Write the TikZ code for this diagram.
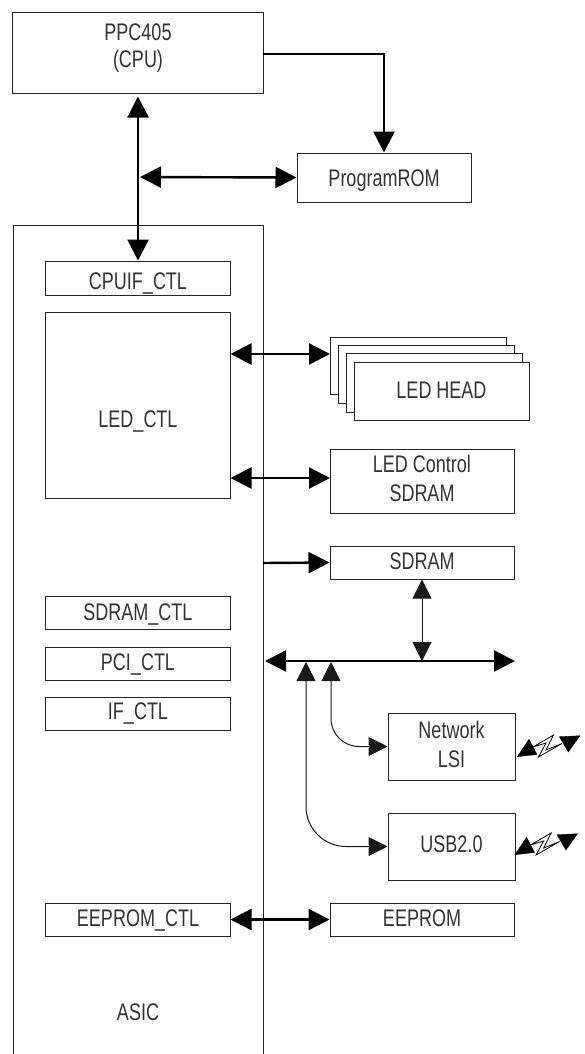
\documentclass[tikz,border=0pt]{standalone}
\usepackage{fontspec}
\setmainfont[FakeStretch=0.75]{Liberation Sans}
\usetikzlibrary{arrows.meta}
\tikzset{
  px/.style={x=1bp,y=-1bp},
  box/.style={draw=black!85,line width=1bp,fill=white,inner sep=0pt,align=center,text=black!80,
    font=\fontsize{24bp}{29bp}\selectfont},
  label/.style={inner sep=0pt,align=center,text=black!80,font=\fontsize{24bp}{29bp}\selectfont},
  bus/.style={line width=2.4bp,black,{Triangle[length=21bp,width=21bp]}-{Triangle[length=21bp,width=21bp]}},
  oneway/.style={line width=2.4bp,black,-{Triangle[length=21bp,width=21bp]}},
  thinbus/.style={line width=1bp,black!90,{Triangle[length=19bp,width=19bp]}-{Triangle[length=19bp,width=19bp]}},
  frame/.style={draw=black!85,line width=1bp},
  antenna/.style={fill=black,draw=black,line width=.3bp},
  bolt/.style={draw=black,line width=.8bp,fill=white,line join=miter},
}
\newcommand{\wb}[5]{\node[box,minimum width=#3 bp,minimum height=#4 bp] (#1) at (#2) {#5};}
% one line of text, its capitals centred #1 below the middle of the box
\newcommand{\low}[2]{\raisebox{\dimexpr-#1bp-8.5bp\relax}[0pt][0pt]{#2}}
% two lines of text, #1 below the middle of the box less the math axis
\newcommand{\twol}[4]{\raisebox{\dimexpr-#1bp\relax}[0pt][0pt]{\begin{tabular}{@{}c@{}}#3\\[#2bp]#4\end{tabular}}}
\begin{document}
\begin{tikzpicture}[px]
\useasboundingbox (0,0) rectangle (585,1054);
% ASIC frame (open at the lower edge)
\draw[frame] (13,1054) -- (13,225) -- (263,225) -- (263,1054);
\node[label] (asic) at (138,1012) {ASIC};
\coordinate (asicout) at (263,563);
\wb{ppc}{138,52.5}{250}{81}{\twol{2}{-2}{PPC405}{(CPU)}}
\wb{rom}{384,177.5}{174}{49}{\low{0}{ProgramROM}}
\wb{cpuif}{138,278}{184}{34}{\low{2.5}{CPUIF\_CTL}}
\wb{ledctl}{138,405}{184}{186}{\low{14}{LED\_CTL}}
\wb{sdctl}{138,612.5}{184}{33}{\low{-0.5}{SDRAM\_CTL}}
\wb{pcictl}{138,663.5}{184}{33}{\low{-1.5}{PCI\_CTL}}
\wb{ifctl}{138,713.5}{184}{33}{\low{-2.5}{IF\_CTL}}
\wb{eectl}{138,919.5}{184}{33}{\low{-1.5}{EEPROM\_CTL}}
\wb{head1}{418,365.5}{176}{57}{}
\wb{head2}{426,374}{176}{58}{}
\wb{head3}{434,382.5}{176}{59}{}
\wb{head4}{441.5,391}{175}{58}{\low{-1}{LED HEAD}}
\wb{ledram}{422,481}{184}{64}{\twol{6.25}{-0.5}{LED Control}{SDRAM}}
\wb{sdram}{422,562.5}{184}{33}{\low{-1.5}{SDRAM}}
\wb{net}{451.5,746.5}{127}{67}{\twol{7}{0}{Network}{LSI}}
\wb{usb}{451.5,846.5}{127}{67}{\low{-2.5}{USB2.0}}
\wb{eeprom}{422,919.5}{184}{33}{\low{-1.5}{EEPROM}}
% bus end points
\coordinate (busl) at (265,661);
\coordinate (busr) at (515,661);
\coordinate (romjoin) at (140,177);
\coordinate (ppcout) at (263,54);
\coordinate (netup) at (331,662);
\coordinate (usbup) at (306,662);
\coordinate (sdbus) at (422,661);
\coordinate (headport) at (330,354);
\coordinate (ramport) at (330,478);
% connectors
\draw[bus,shorten <=3bp] (ppc.south) -- (cpuif.north);
\draw[bus] (romjoin) -- (rom.west);
\draw[oneway] (ppcout) -| (rom.north);
\draw[bus] (ledctl.east |- headport) -- (headport);
\draw[bus] (ledctl.east |- ramport) -- (ramport);
\draw[oneway] (asicout) -- (sdram.west);
\draw[thinbus] (sdram.south) -- (sdbus);
\draw[bus] (busl) -- (busr);
\draw[thinbus,rounded corners=28bp] (netup) |- (net.west);
\draw[thinbus,rounded corners=40bp] (usbup) |- (usb.west);
\draw[bus] (eectl.east) -- (eeprom.west);
% wireless symbols
\foreach \dx/\dy in {0/0,-2.4/98}{
  \begin{scope}[shift={(\dx,\dy)}]
    \draw[bolt] (533,747) -- (553.5,735) -- (546,750) -- (562,743.5) -- (538.5,757) -- (546,743) -- cycle;
    \fill[antenna] (517.3,756.7) -- (537,754.5) -- (529,739.3) -- cycle;
    \fill[antenna] (559.3,736.7) -- (580,735.7) -- (568.3,752) -- cycle;
  \end{scope}
}
\end{tikzpicture}
\end{document}
